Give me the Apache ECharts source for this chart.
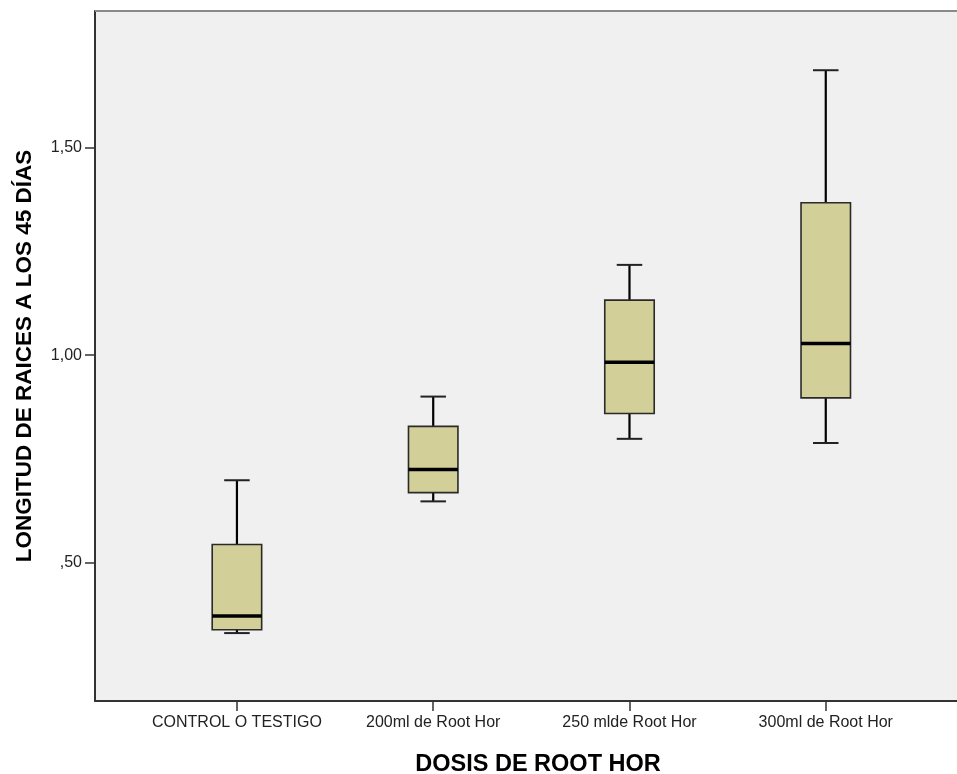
<!DOCTYPE html>
<html>
<head>
<meta charset="utf-8">
<script src="https://cdn.jsdelivr.net/npm/echarts@6/dist/echarts.min.js"></script>
<style>
html,body{margin:0;padding:0;background:#fff;}
#chart{width:957px;height:774px;}
</style>
</head>
<body>
<div id="chart"></div>
<script>
// ---- data ----
const categories = ['CONTROL O TESTIGO', '200ml de Root Hor', '250 mlde Root Hor', '300ml de Root Hor'];
const whiskerLow  = [0.329, 0.647, 0.798, 0.788];
const quartile1   = [0.337, 0.668, 0.859, 0.897];
const median      = [0.370, 0.724, 0.983, 1.028];
const quartile3   = [0.543, 0.828, 1.133, 1.368];
const whiskerHigh = [0.698, 0.900, 1.218, 1.688];
const yTickValues = [0.5, 1.0, 1.5];
const yTickLabels = [',50', '1,00', '1,50'];
const yTitle = 'LONGITUD DE RAICES A LOS 45 DÍAS';
const xTitle = 'DOSIS DE ROOT HOR';

const boxData = categories.map((c, i) => [i, whiskerLow[i], quartile1[i], median[i], quartile3[i], whiskerHigh[i]]);

const YMIN = 0.165, YMAX = 1.831;
const FONT = '"Liberation Sans", Arial, sans-serif';

const chart = echarts.init(document.getElementById('chart'), null, {renderer: 'canvas'});

const option = {
  backgroundColor: '#ffffff',
  animation: false,
  title: {
    text: xTitle,
    left: 533, top: 748,
    textAlign: 'center',
    textStyle: {fontFamily: FONT, fontSize: 23.5, fontWeight: 'bold', color: '#000'}
  },
  grid: [
    {left: 95, top: 11, width: 862, height: 690, show: true, backgroundColor: '#f0f0f0', borderWidth: 0},
    {left: 138.8, top: 11, width: 785.1, height: 690}
  ],
  xAxis: [
    {type: 'value', gridIndex: 0, min: 0, max: 1,
     axisLine: {show: true, lineStyle: {color: '#333', width: 2}},
     axisTick: {show: false}, axisLabel: {show: false}, splitLine: {show: false}},
    {type: 'category', gridIndex: 1, data: categories, boundaryGap: true,
     axisLine: {show: false},
     axisTick: {show: true, alignWithLabel: true, interval: 0, length: 10, lineStyle: {color: '#333', width: 1.5}},
     axisLabel: {interval: 0, hideOverlap: false, fontFamily: FONT, fontSize: 16, color: '#222', margin: 14},
     splitLine: {show: false}}
  ],
  yAxis: [
    {type: 'value', gridIndex: 0, min: YMIN, max: YMAX,
     name: yTitle, nameLocation: 'middle', nameGap: 59,
     nameTextStyle: {fontFamily: FONT, fontSize: 22.5, fontWeight: 'bold', color: '#000'},
     axisLine: {show: true, lineStyle: {color: '#333', width: 2}},
     axisTick: {show: true, length: 10, customValues: yTickValues, lineStyle: {color: '#333', width: 1.5}},
     axisLabel: {show: true, customValues: yTickValues, margin: 13, fontFamily: FONT, fontSize: 16, color: '#222',
       formatter: v => { const i = yTickValues.findIndex(t => Math.abs(t - v) < 1e-9); return i >= 0 ? yTickLabels[i] : ''; }},
     splitLine: {show: false}},
    {type: 'value', gridIndex: 1, min: YMIN, max: YMAX, show: false}
  ],
  graphic: [
    {type: 'line', shape: {x1: 95, y1: 11, x2: 957, y2: 11}, style: {stroke: '#8a8a8a', lineWidth: 2}, z: 10}
  ],
  series: [{
    type: 'custom',
    xAxisIndex: 1, yAxisIndex: 1,
    data: boxData,
    encode: {x: 0, y: [1, 2, 3, 4, 5]},
    renderItem: function (params, api) {
      const x = api.value(0);
      const pLo = api.coord([x, api.value(1)]);
      const pQ1 = api.coord([x, api.value(2)]);
      const pMed = api.coord([x, api.value(3)]);
      const pQ3 = api.coord([x, api.value(4)]);
      const pHi = api.coord([x, api.value(5)]);
      const band = api.size([1, 0])[0];
      const hb = band * 0.252 / 2;
      const hc = band * 0.13 / 2;
      const cx = pLo[0];
      const lineStyle = {stroke: '#000', lineWidth: 2.2};
      return {
        type: 'group',
        children: [
          {type: 'line', shape: {x1: cx, y1: pHi[1], x2: cx, y2: pQ3[1]}, style: lineStyle},
          {type: 'line', shape: {x1: cx, y1: pLo[1], x2: cx, y2: pQ1[1]}, style: lineStyle},
          {type: 'line', shape: {x1: cx - hc, y1: pHi[1], x2: cx + hc, y2: pHi[1]}, style: {stroke: '#222', lineWidth: 2}},
          {type: 'line', shape: {x1: cx - hc, y1: pLo[1], x2: cx + hc, y2: pLo[1]}, style: {stroke: '#222', lineWidth: 2}},
          {type: 'rect', shape: {x: cx - hb, y: pQ3[1], width: hb * 2, height: pQ1[1] - pQ3[1]},
           style: {fill: '#d3cf98', stroke: '#2a2a2a', lineWidth: 1.6}},
          {type: 'line', shape: {x1: cx - hb, y1: pMed[1], x2: cx + hb, y2: pMed[1]}, style: {stroke: '#000', lineWidth: 3.5}}
        ]
      };
    }
  }]
};
chart.setOption(option);
</script>
</body>
</html>
